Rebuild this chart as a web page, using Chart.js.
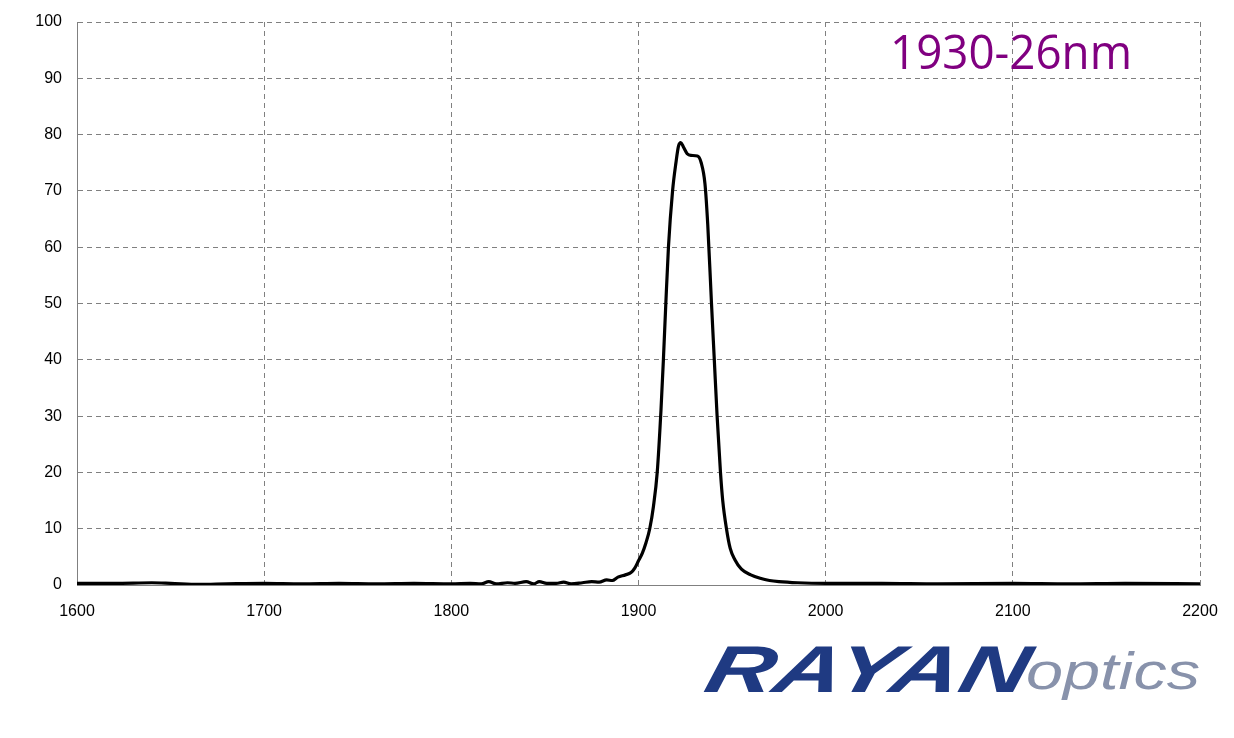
<!DOCTYPE html>
<html>
<head>
<meta charset="utf-8">
<script src="https://cdn.jsdelivr.net/npm/chart.js@4.4.1/dist/chart.umd.min.js"></script>
<style>
  html, body { margin: 0; padding: 0; background: #fff; }
  #wrap { width: 1234px; height: 738px; position: relative; }
</style>
</head>
<body>
<div id="wrap"><canvas id="grafico"></canvas></div>
<script>
// transmission curve
const wavelength = [
  1600, 1620, 1640, 1650, 1665, 1680, 1700, 1720, 1740, 1760, 1780, 1800,
  1810, 1816, 1820, 1824, 1830, 1834, 1840, 1844, 1847, 1851, 1856, 1860,
  1864, 1870, 1875, 1879, 1883, 1886, 1889, 1893, 1896, 1898, 1900, 1902,
  1904, 1906, 1908, 1910, 1912, 1913.3, 1914.6, 1916, 1918.2, 1920, 1921.4,
  1922.6, 1924, 1926, 1928, 1931.5, 1933.5, 1935.5, 1937, 1939, 1940.5,
  1942, 1943.8, 1945, 1947, 1949, 1951.5, 1955, 1960, 1965, 1970, 1975,
  1985, 2000, 2030, 2060, 2100, 2130, 2160, 2200
];
const transmission = [
  0.3, 0.3, 0.4, 0.3, 0.1, 0.2, 0.3, 0.2, 0.3, 0.2, 0.3, 0.2,
  0.3, 0.2, 0.6, 0.2, 0.4, 0.3, 0.6, 0.2, 0.6, 0.3, 0.3, 0.5,
  0.2, 0.4, 0.6, 0.5, 0.9, 0.8, 1.4, 1.8, 2.2, 3.0, 4.3, 5.6,
  7.5, 10, 14, 20, 31, 40, 50, 60, 70, 75, 78,
  78.6, 77.8, 76.6, 76.3, 76.2, 75, 71.3, 64, 50, 40,
  30, 20, 15, 10, 6.5, 4.5, 2.8, 1.8, 1.2, 0.8, 0.6,
  0.4, 0.3, 0.3, 0.2, 0.3, 0.2, 0.3, 0.2
];
const xTicks = [1600, 1700, 1800, 1900, 2000, 2100, 2200];
const yTicks = [0, 10, 20, 30, 40, 50, 60, 70, 80, 90, 100];
const titulo = '1930-26nm';

const pontos = wavelength.map((w, i) => ({ x: w, y: transmission[i] }));

// texto do canto e logotipo
const extras = {
  id: 'extras',
  afterDraw(chart) {
    const c = chart.ctx;
    c.save();
    c.fillStyle = '#800080';
    c.font = '48px "Open Sans"';
    c.textBaseline = 'alphabetic';
    let w = c.measureText(titulo).width;
    c.translate(890, 69);
    c.scale(242 / w, 1);
    c.fillText(titulo, 0, 0);
    c.restore();

    c.save();
    c.fillStyle = '#1f3a82';
    c.font = 'italic 900 66px "Liberation Sans"';
    w = c.measureText('RAYAN').width;
    c.translate(702, 692);
    c.transform(1, 0, -0.25, 1, 0, 0);
    c.scale(322 / w, 1);
    c.fillText('RAYAN', 0, 0);
    c.restore();

    c.save();
    c.fillStyle = '#8892ab';
    c.font = 'italic 52px "Liberation Sans"';
    w = c.measureText('optics').width;
    c.translate(1026, 689);
    c.scale(174 / w, 1);
    c.fillText('optics', 0, 0);
    c.restore();
  }
};

const grade = {
  color: '#808080',
  lineWidth: 1,
  drawTicks: false
};

new Chart(document.getElementById('grafico'), {
  type: 'line',
  data: {
    datasets: [{
      data: pontos,
      borderColor: '#000',
      borderWidth: 3.2,
      pointRadius: 0,
      cubicInterpolationMode: 'monotone',
      fill: false
    }]
  },
  options: {
    responsive: true,
    maintainAspectRatio: false,
    animation: false,
    layout: { padding: { top: 22, right: 34, bottom: 0, left: 0 } },
    plugins: { legend: { display: false }, tooltip: { enabled: false } },
    scales: {
      x: {
        type: 'linear',
        min: 1600,
        max: 2200,
        afterBuildTicks: s => { s.ticks = xTicks.map(v => ({ value: v })); },
        afterFit: s => { s.height = 153; s.paddingLeft = 0; s.paddingRight = 0; },
        ticks: {
          color: '#000', padding: 17,
          font: { family: 'Liberation Sans', size: 16 },
          callback: v => String(v)
        },
        grid: grade,
        border: { display: true, color: '#808080', dash: [5, 4] }
      },
      y: {
        min: 0,
        max: 100,
        afterBuildTicks: s => { s.ticks = yTicks.map(v => ({ value: v })); },
        afterFit: s => { s.width = 77; s.paddingTop = 0; s.paddingBottom = 0; },
        ticks: {
          color: '#000', padding: 15,
          font: { family: 'Liberation Sans', size: 16 },
          callback: v => String(v)
        },
        grid: grade,
        border: { display: true, color: '#808080', dash: [5, 4] }
      }
    }
  },
  plugins: [extras]
});
</script>
</body>
</html>
